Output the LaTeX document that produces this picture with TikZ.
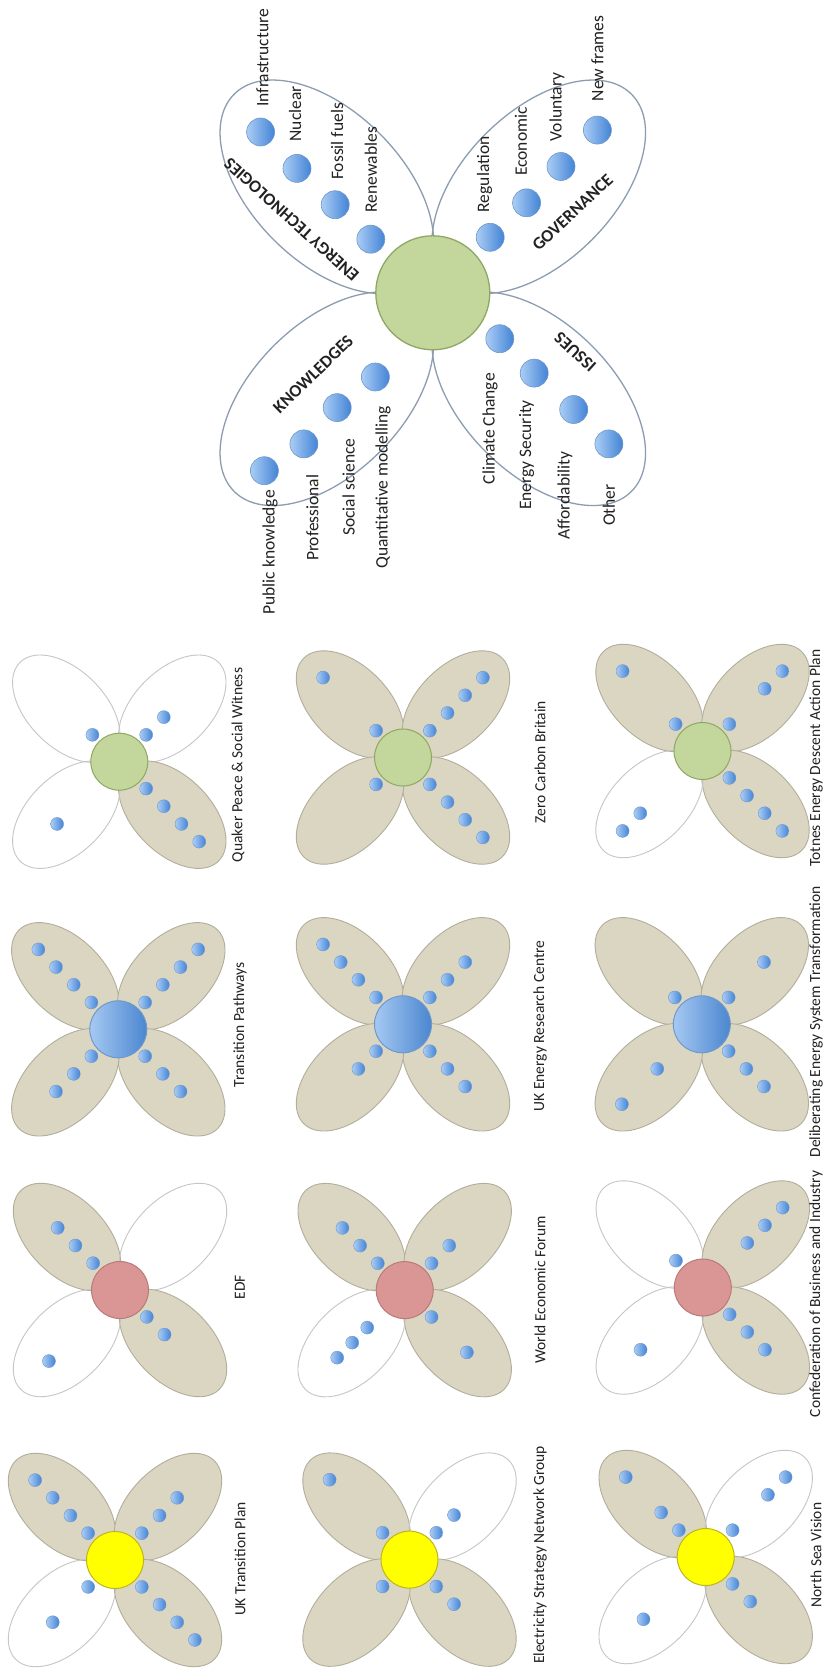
\documentclass[tikz,border=0pt]{standalone}
\usepackage{fontspec}
\setmainfont{Carlito}
\usetikzlibrary{shapes.geometric,calc}
\definecolor{tanfill}{HTML}{DBD6C2}
\definecolor{tanline}{HTML}{B3AE9C}
\definecolor{wline}{HTML}{C6C6C6}
\definecolor{bigline}{HTML}{8C9DB2}
\definecolor{gfill}{HTML}{C3D69B}
\definecolor{gline}{HTML}{8EA864}
\definecolor{rfill}{HTML}{D99694}
\definecolor{rline}{HTML}{B97A78}
\definecolor{yfill}{HTML}{FFFF00}
\definecolor{yline}{HTML}{BDB520}
\definecolor{blight}{HTML}{A6C9F2}
\definecolor{bdark}{HTML}{4A86D0}
\definecolor{bline}{HTML}{6F98C8}
\definecolor{dlight}{HTML}{AACDF5}
\definecolor{ddark}{HTML}{4383D6}
\definecolor{txt}{HTML}{222222}
\tikzset{
  smallpetal/.style={ellipse, inner sep=0pt, minimum width=131pt, minimum height=77pt, line width=0.9pt},
  tanpetal/.style={smallpetal, fill=tanfill, draw=tanline},
  whitepetal/.style={smallpetal, draw=wline},
  bigpetal/.style={ellipse, inner sep=0pt, minimum width=262pt, minimum height=150pt, draw=bigline, line width=1.3pt},
  ctrbase/.style={circle, inner sep=0pt, minimum size=57pt, line width=1pt},
  ctrgreen/.style={ctrbase, fill=gfill, draw=gline},
  ctrred/.style={ctrbase, fill=rfill, draw=rline},
  ctryellow/.style={ctrbase, fill=yfill, draw=yline},
  ctrblue/.style={ctrbase, left color=blight, right color=bdark, draw=bline},
  bigctr/.style={circle, inner sep=0pt, minimum size=114pt, fill=gfill, draw=gline, line width=1.3pt},
  sdot/.style={circle, inner sep=0pt, minimum size=13pt, left color=dlight, right color=ddark, draw=bline, line width=0.4pt},
  bdot/.style={circle, inner sep=0pt, minimum size=28pt, left color=dlight, right color=ddark, draw=bline, line width=0.6pt},
  slabel/.style={rotate=90, font=\fontsize{15.5}{18}\selectfont, text=txt, inner sep=0pt},
  blabel/.style={rotate=90, font=\fontsize{17.5}{20}\selectfont, text=txt, inner sep=0pt},
  ttl/.style={font=\bfseries\fontsize{17.5}{20}\selectfont, text=txt, inner sep=0pt}
}
% #1 name, #2 X, #3 Y, #4 centre style, #5-#8 petal styles (UL,UR,LR,LL), #9 dots petal/slot
\newcommand{\flower}[9]{%
  \coordinate (#1) at (#2,#3);
  \node[#5, rotate=-45] (#1-p1) at ($(#1)+(-53,-53)$) {};
  \node[#6, rotate=45] (#1-p2) at ($(#1)+(53,-53)$) {};
  \node[#7, rotate=-45] (#1-p3) at ($(#1)+(53,53)$) {};
  \node[#8, rotate=45] (#1-p4) at ($(#1)+(-53,53)$) {};
  \node[#4] (#1-c) at (#1) {};
  \foreach \p/\k [count=\i] in {#9} {
    \ifcase\p\or\def\ang{135}\or\def\ang{45}\or\def\ang{-45}\or\def\ang{-135}\fi
    \pgfmathsetmacro\rr{13+25*\k}
    \node[sdot] (#1-d\i) at ($(#1)+(\ang:\rr pt)$) {};
  }%
}
\begin{document}
\begin{tikzpicture}[x=1pt,y=-1pt]
\fill[white] (0,0) rectangle (824,1671);
\useasboundingbox (0,0) rectangle (824,1671);

% ---------- big flower ----------
\coordinate (B) at (432.8,292.8);
\node[bigpetal, rotate=-45] (B-et) at ($(B)+(-106,-106)$) {};
\node[bigpetal, rotate=45] (B-gov) at ($(B)+(106,-106)$) {};
\node[bigpetal, rotate=-45] (B-iss) at ($(B)+(106,106)$) {};
\node[bigpetal, rotate=45] (B-kn) at ($(B)+(-106,106)$) {};
\node[bigctr] (B-c) at (B) {};

\node[bdot] (et4) at (260.6,132) {};
\node[bdot] (et3) at (297,168.4) {};
\node[bdot] (et2) at (335.2,204.7) {};
\node[bdot] (et1) at (370.8,239.2) {};
\node[bdot] (gv1) at (490.2,237.3) {};
\node[bdot] (gv2) at (526.6,202.8) {};
\node[bdot] (gv3) at (561,166.5) {};
\node[bdot] (gv4) at (597.4,130.1) {};
\node[bdot] (is1) at (499.8,338.7) {};
\node[bdot] (is2) at (534.2,373.1) {};
\node[bdot] (is3) at (573.7,409.5) {};
\node[bdot] (is4) at (608.9,443.9) {};
\node[bdot] (kn1) at (375.4,377) {};
\node[bdot] (kn2) at (337.2,407.6) {};
\node[bdot] (kn3) at (303.9,443.9) {};
\node[bdot] (kn4) at (264.4,470.7) {};

\node[blabel, anchor=west] (l-et4) at (262.5,107) {Infrastructure};
\node[blabel, anchor=west] (l-et3) at (295,141.6) {Nuclear};
\node[blabel, anchor=west] (l-et2) at (337,180) {Fossil fuels};
\node[blabel, anchor=west] (l-et1) at (370.8,212.4) {Renewables};
\node[blabel, anchor=west] (l-gv1) at (484.5,212.4) {Regulation};
\node[blabel, anchor=west] (l-gv2) at (520.9,176) {Economic};
\node[blabel, anchor=west] (l-gv3) at (557,141.6) {Voluntary};
\node[blabel, anchor=west] (l-gv4) at (597.4,101.4) {New frames};
\node[blabel, anchor=east] (l-is1) at (490,373) {Climate Change};
\node[blabel, anchor=east] (l-is2) at (526.6,400) {Energy Security};
\node[blabel, anchor=east] (l-is3) at (564.9,451.6) {Affordability};
\node[blabel, anchor=east] (l-is4) at (608.9,484) {Other};
\node[blabel, anchor=east] (l-kn1) at (383,405.7) {Quantitative modelling};
\node[blabel, anchor=east] (l-kn2) at (348.6,438.2) {Social science};
\node[blabel, anchor=east] (l-kn3) at (312.3,474.5) {Professional};
\node[blabel, anchor=east] (l-kn4) at (270,490) {Public knowledge};

\node[ttl, rotate=138] (t-et) at (291.5,219.7) {ENERGY TECHNOLOGIES};
\node[ttl, rotate=43] (t-gov) at (572.5,212.4) {GOVERNANCE};
\node[ttl, rotate=138] (t-iss) at (575.2,352) {ISSUES};
\node[ttl, rotate=44] (t-kn) at (313.2,374.1) {KNOWLEDGES};

% ---------- small flowers ----------
\flower{qpsw}{119.3}{761.7}{ctrgreen}{whitepetal}{whitepetal}{tanpetal}{whitepetal}{1/1,2/1,2/2,3/1,3/2,3/3,3/4,4/3}
\node[slabel] (qpsw-l) at (238,765) {Quaker Peace \& Social Witness};

\flower{tp}{118.3}{1029.3}{ctrblue}{tanpetal}{tanpetal}{tanpetal}{tanpetal}{1/1,1/2,1/3,1/4,2/1,2/2,2/3,2/4,3/1,3/2,3/3,4/1,4/2,4/3}
\node[slabel] (tp-l) at (240,1025) {Transition Pathways};

\flower{edf}{120}{1290}{ctrred}{tanpetal}{whitepetal}{tanpetal}{whitepetal}{1/1,1/2,1/3,3/1,3/2,4/3.5}
\node[slabel] (edf-l) at (240,1287) {EDF};

\flower{uktp}{115}{1560}{ctryellow}{tanpetal}{tanpetal}{tanpetal}{whitepetal}{1/1,1/2,1/3,1/4,2/1,2/2,2/3,3/1,3/2,3/3,3/4,4/1,4/3}
\node[slabel] (uktp-l) at (240,1559) {UK Transition Plan};

\flower{zcb}{403}{757.5}{ctrgreen}{tanpetal}{tanpetal}{tanpetal}{tanpetal}{1/1,1/4,2/1,2/2,2/3,2/4,3/1,3/2,3/3,3/4,4/1}
\node[slabel] (zcb-l) at (540,762) {Zero Carbon Britain};

\flower{ukerc}{403}{1024.3}{ctrblue}{tanpetal}{tanpetal}{tanpetal}{tanpetal}{1/1,1/2,1/3,1/4,2/1,2/2,2/3,3/1,3/2,3/3,4/1,4/2}
\node[slabel] (ukerc-l) at (540,1026) {UK Energy Research Centre};

\flower{wef}{404.7}{1290.1}{ctrred}{tanpetal}{tanpetal}{tanpetal}{whitepetal}{1/1,1/2,1/3,2/1,2/2,3/1,3/3,4/1.6,4/2.45,4/3.3}
\node[slabel] (wef-l) at (540,1290) {World Economic Forum};

\flower{esng}{409.5}{1559.6}{ctryellow}{tanpetal}{whitepetal}{tanpetal}{tanpetal}{1/1,1/4,2/1,2/2,3/1,3/2,4/1}
\node[slabel] (esng-l) at (540,1555) {Electricity Strategy Network Group};

\flower{totnes}{702.5}{751}{ctrgreen}{tanpetal}{tanpetal}{tanpetal}{whitepetal}{1/1,1/4,2/1,2/3,2/4,3/1,3/2,3/3,3/4,4/3,4/4}
\node[slabel] (totnes-l) at (816,758) {Totnes Energy Descent Action Plan};

\flower{dest}{701.8}{1024.3}{ctrblue}{tanpetal}{tanpetal}{tanpetal}{tanpetal}{1/1,2/1,2/3,3/1,3/2,3/3,4/2,4/4}
\node[slabel] (dest-l) at (816,1022) {Deliberating Energy System Transformation};

\flower{cbi}{702.8}{1287.5}{ctrred}{whitepetal}{tanpetal}{tanpetal}{whitepetal}{1/1,2/2,2/3,2/4,3/1,3/2,3/3,4/3}
\node[slabel] (cbi-l) at (816,1294) {Confederation of Business and Industry};

\flower{nsv}{705.7}{1557}{ctryellow}{tanpetal}{whitepetal}{tanpetal}{whitepetal}{1/1,1/2,1/4,2/1,2/3,2/4,3/1,3/2,4/3}
\node[slabel] (nsv-l) at (816,1555) {North Sea Vision};
\end{tikzpicture}
\end{document}
